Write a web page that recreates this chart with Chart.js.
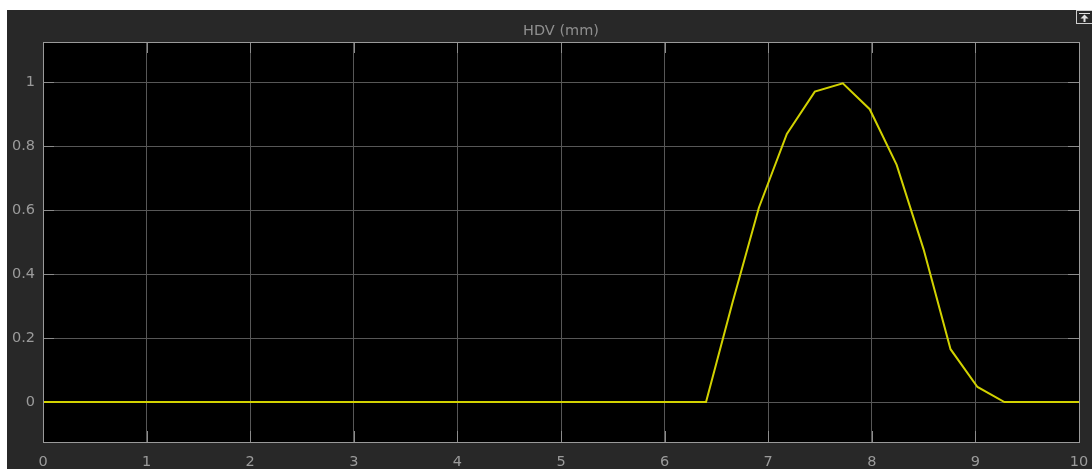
<!DOCTYPE html>
<html>
<head>
<meta charset="utf-8">
<script src="https://cdn.jsdelivr.net/npm/chart.js@4/dist/chart.umd.min.js"></script>
<style>
  html, body { margin: 0; padding: 0; background: #ffffff; overflow: hidden; }
  #wrap { position: absolute; left: 0; top: 0; width: 1092px; height: 469px; }
</style>
</head>
<body>
<div id="wrap"><canvas id="c" width="1092" height="469"></canvas></div>
<script>
// ---- data ----
const timeValues = [0, 6.4, 6.655, 6.91, 7.18, 7.45, 7.72, 7.98, 8.24, 8.5, 8.76, 9.02, 9.28, 10];
const hdvValues  = [0, 0, 0.31, 0.607, 0.838, 0.970, 0.996, 0.915, 0.741, 0.477, 0.165, 0.047, 0, 0];
const xTickValues = [0, 1, 2, 3, 4, 5, 6, 7, 8, 9, 10];
const yTickValues = [0, 0.2, 0.4, 0.6, 0.8, 1];
const chartTitle = 'HDV (mm)';

const points = timeValues.map((t, i) => ({ x: t, y: hdvValues[i] }));

const bgPlugin = {
  id: 'bg',
  beforeDraw(chart) {
    const ctx = chart.ctx, a = chart.chartArea;
    ctx.save();
    ctx.fillStyle = '#ffffff';
    ctx.fillRect(0, 0, chart.width, chart.height);
    ctx.fillStyle = '#282828';
    ctx.fillRect(7, 10, chart.width - 7, chart.height - 10);
    ctx.fillStyle = '#000000';
    ctx.fillRect(a.left, a.top, a.right - a.left, a.bottom - a.top);
    // small undock icon top-right
    ctx.strokeStyle = '#cfcfcf';
    ctx.lineWidth = 1;
    ctx.strokeRect(1076.5, 10.5, 16, 13);
    ctx.fillStyle = '#e0e0e0';
    ctx.fillRect(1079, 13, 11, 1);
    ctx.beginPath();
    ctx.moveTo(1084.5, 14.5);
    ctx.lineTo(1088.5, 18.5);
    ctx.lineTo(1080.5, 18.5);
    ctx.closePath();
    ctx.fill();
    ctx.fillRect(1083.5, 18, 2, 4);
    ctx.restore();
  },
  beforeDatasetsDraw(chart) {
    const ctx = chart.ctx, a = chart.chartArea;
    const xs = chart.scales.x, ys = chart.scales.y;
    const L = 11;
    ctx.save();
    ctx.strokeStyle = '#8c8c8c';
    ctx.lineWidth = 1;
    ctx.beginPath();
    xTickValues.forEach(v => {
      const px = Math.round(xs.getPixelForValue(v)) + 0.5;
      ctx.moveTo(px, a.bottom); ctx.lineTo(px, a.bottom - L);
      ctx.moveTo(px, a.top); ctx.lineTo(px, a.top + L);
    });
    yTickValues.forEach(v => {
      const py = Math.round(ys.getPixelForValue(v)) + 0.5;
      ctx.moveTo(a.left, py); ctx.lineTo(a.left + L, py);
      ctx.moveTo(a.right, py); ctx.lineTo(a.right - L, py);
    });
    ctx.stroke();
    ctx.restore();
  },
  afterDraw(chart) {
    const ctx = chart.ctx, a = chart.chartArea;
    ctx.save();
    ctx.strokeStyle = '#9a9a9a';
    ctx.lineWidth = 1;
    ctx.strokeRect(Math.round(a.left) + 0.5, Math.round(a.top) + 0.5,
                   Math.round(a.right - a.left), Math.round(a.bottom - a.top));
    ctx.restore();
  }
};

const tickFont = { family: "'DejaVu Sans', sans-serif", size: 14.5 };

new Chart(document.getElementById('c'), {
  type: 'line',
  data: {
    datasets: [{
      data: points,
      borderColor: '#d2d200',
      borderWidth: 2,
      pointRadius: 0,
      tension: 0,
      fill: false
    }]
  },
  options: {
    responsive: false,
    animation: false,
    devicePixelRatio: 1,
    layout: { padding: { left: 0, top: 0, right: 13, bottom: 0 } },
    plugins: {
      legend: { display: false },
      tooltip: { enabled: false },
      title: {
        display: true,
        text: chartTitle,
        fullSize: false,
        color: '#8f8f8f',
        font: { family: "'DejaVu Sans', sans-serif", size: 14.5, weight: 'normal', lineHeight: 1.2 },
        padding: { top: 22.3, bottom: 2.3 }
      }
    },
    scales: {
      x: {
        type: 'linear',
        min: 0, max: 10,
        afterBuildTicks: s => { s.ticks = xTickValues.map(v => ({ value: v })); },
        afterFit: s => { s.height = 27; s.paddingLeft = 0; s.paddingRight = 0; },
        grid: { color: '#575757', lineWidth: 1, drawTicks: false },
        border: { display: false },
        ticks: {
          color: '#9b9b9b', font: tickFont, padding: 12,
          maxRotation: 0, autoSkip: false,
          callback: v => String(v)
        }
      },
      y: {
        type: 'linear',
        min: -0.125, max: 1.125,
        afterBuildTicks: s => { s.ticks = yTickValues.map(v => ({ value: v })); },
        afterFit: s => { s.width = 43; s.paddingTop = 0; s.paddingBottom = 0; },
        grid: { color: '#575757', lineWidth: 1, drawTicks: false },
        border: { display: false },
        ticks: {
          color: '#9b9b9b', font: tickFont, padding: 8,
          autoSkip: false,
          callback: v => String(v)
        }
      }
    }
  },
  plugins: [bgPlugin]
});
</script>
</body>
</html>
